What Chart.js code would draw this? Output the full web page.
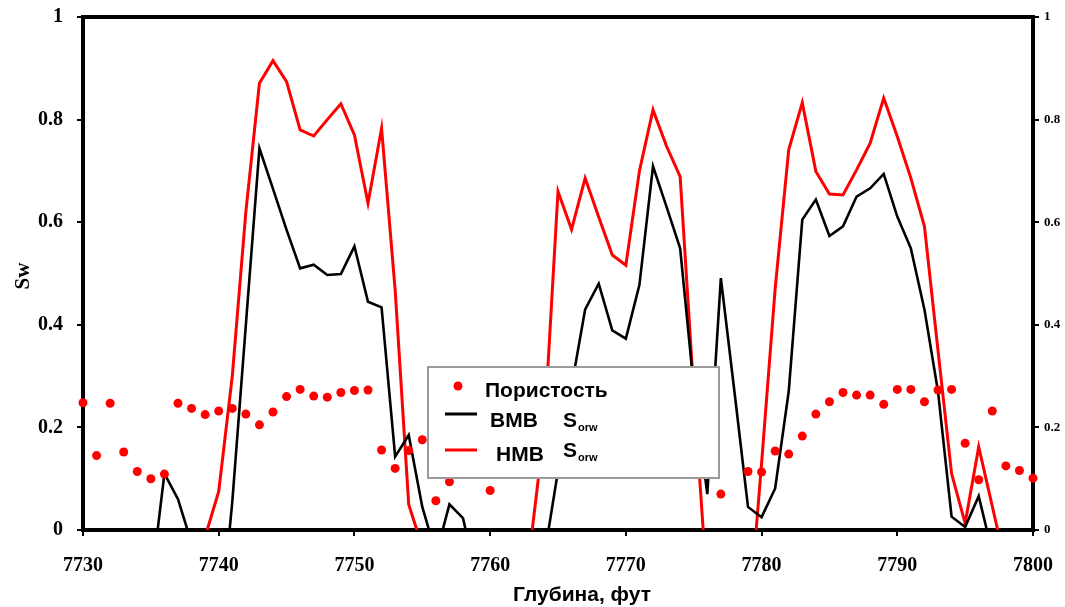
<!DOCTYPE html>
<html>
<head>
<meta charset="utf-8">
<script src="https://cdn.jsdelivr.net/npm/chart.js@4.4.1/dist/chart.umd.min.js"></script>
<style>
  body { margin: 0; background: #fff; }
  #chart { width: 1065px; height: 607px; }
</style>
</head>
<body>
<div id="chart"><canvas id="myChart" width="1065" height="607"></canvas></div>
<script>
// depth ticks (ft) and Sw ticks
const depthTicks = [7730, 7740, 7750, 7760, 7770, 7780, 7790, 7800];
const swTicks = [0, 0.2, 0.4, 0.6, 0.8, 1];

// porosity, one reading per foot (null = no reading shown)
const porDepth = [
  7730, 7731, 7732, 7733, 7734, 7735, 7736, 7737, 7738, 7739,
  7740, 7741, 7742, 7743, 7744, 7745, 7746, 7747, 7748, 7749,
  7750, 7751, 7752, 7753, 7754, 7755, 7756, 7757, 7758, 7759,
  7760, 7761, 7762, 7763, 7764, 7765, 7766, 7767, 7768, 7769,
  7770, 7771, 7772, 7773, 7774, 7775, 7776, 7777, 7778, 7779,
  7780, 7781, 7782, 7783, 7784, 7785, 7786, 7787, 7788, 7789,
  7790, 7791, 7792, 7793, 7794, 7795, 7796, 7797, 7798, 7799,
  7800
];
const porosity = [
  0.248, 0.145, 0.247, 0.152, 0.114, 0.100, 0.109, 0.247, 0.237, 0.225,
  0.232, 0.237, 0.226, 0.205, 0.230, 0.260, 0.274, 0.261, 0.259, 0.268,
  0.272, 0.273, 0.156, 0.120, 0.155, 0.176, 0.057, 0.094, null, null,
  0.077, null, null, null, null, null, null, null, null, null,
  null, null, null, null, null, null, null, 0.070, null, 0.114,
  0.113, 0.154, 0.148, 0.183, 0.226, 0.250, 0.268, 0.263, 0.263, 0.245,
  0.274, 0.274, 0.250, 0.273, 0.274, 0.169, 0.098, 0.232, 0.125, 0.116,
  0.101
];

// BMB Sorw (null breaks the curve where it sits on zero)
const bmbDepth = [
  7735.5, 7736, 7737, 7737.7, null,
  7740.8, 7741, 7742, 7743, 7744, 7745, 7746, 7747, 7748, 7749, 7750,
  7751, 7752, 7753, 7754, 7755, 7755.5, null,
  7756.5, 7757, 7758, 7758.2, null,
  7764.3, 7765, 7766, 7767, 7768, 7769, 7770, 7771, 7772, 7773, 7774,
  7775, 7776, 7777, 7778, 7779, 7780, 7781, 7782, 7783, 7784, 7785,
  7786, 7787, 7788, 7789, 7790, 7791, 7792, 7793, 7794, 7795, 7796, 7796.6
];
const bmbSw = [
  0, 0.11, 0.06, 0, null,
  0, 0.055, 0.40, 0.744, 0.665, 0.585, 0.510, 0.517, 0.497, 0.499, 0.553,
  0.445, 0.434, 0.143, 0.185, 0.045, 0, null,
  0, 0.05, 0.023, 0, null,
  0, 0.115, 0.28, 0.43, 0.48, 0.389, 0.373, 0.478, 0.709, 0.63, 0.549,
  0.28, 0.07, 0.491, 0.27, 0.045, 0.025, 0.081, 0.27, 0.605, 0.644, 0.573,
  0.592, 0.65, 0.666, 0.694, 0.611, 0.549, 0.43, 0.27, 0.026, 0.006, 0.066, 0
];

// HMB Sorw
const hmbDepth = [
  7739.15, 7740, 7741, 7742, 7743, 7744, 7745, 7746, 7747, 7748, 7749,
  7750, 7751, 7752, 7753, 7754, 7754.6, null,
  7763.1, 7764, 7765, 7766, 7767, 7768, 7769, 7770, 7771, 7772, 7773,
  7774, 7775, 7775.7, null,
  7779.6, 7780, 7781, 7782, 7783, 7784, 7785, 7786, 7787, 7788, 7789,
  7790, 7791, 7792, 7793, 7794, 7795, 7796, 7797.4
];
const hmbSw = [
  0, 0.075, 0.30, 0.62, 0.871, 0.915, 0.874, 0.78, 0.768, 0.80, 0.831,
  0.77, 0.637, 0.783, 0.468, 0.05, 0, null,
  0, 0.20, 0.66, 0.586, 0.686, 0.61, 0.536, 0.516, 0.70, 0.819, 0.748,
  0.689, 0.27, 0, null,
  0, 0.13, 0.47, 0.741, 0.833, 0.699, 0.655, 0.653, 0.702, 0.754, 0.842,
  0.767, 0.686, 0.592, 0.35, 0.11, 0.013, 0.162, 0
];

const pairs = (xs, ys) => xs.map((x, i) => x === null ? { x: NaN, y: null } : { x: x, y: ys[i] });

const serif = '"Liberation Serif", "Times New Roman", serif';
const sans = '"Liberation Sans", Arial, sans-serif';

const frameAndNotes = {
  id: 'frameAndNotes',
  beforeDatasetsDraw(chart) {
    const { ctx, chartArea: a } = chart;
    ctx.save();
    ctx.strokeStyle = '#000';
    ctx.lineWidth = 4;
    ctx.strokeRect(a.left, a.top, a.right - a.left, a.bottom - a.top);
    ctx.restore();
  },
  afterDraw(chart) {
    const ctx = chart.ctx;
    ctx.save();

    // axis titles
    ctx.fillStyle = '#000';
    ctx.font = 'bold 21px ' + sans;
    ctx.textAlign = 'center';
    ctx.textBaseline = 'middle';
    ctx.fillText('Глубина, фут', 582, 595);

    ctx.save();
    ctx.translate(24, 276);
    ctx.rotate(-Math.PI / 2);
    ctx.font = 'bold 21px ' + serif;
    ctx.fillText('Sw', 0, 0);
    ctx.restore();

    // legend box
    ctx.fillStyle = '#fff';
    ctx.fillRect(428, 367, 291, 111);
    ctx.strokeStyle = '#9a9a9a';
    ctx.lineWidth = 2;
    ctx.strokeRect(428, 367, 291, 111);

    ctx.fillStyle = '#f00';
    ctx.beginPath();
    ctx.arc(458, 386, 4.5, 0, Math.PI * 2);
    ctx.fill();

    ctx.lineWidth = 3;
    ctx.strokeStyle = '#000';
    ctx.beginPath(); ctx.moveTo(445, 414); ctx.lineTo(477, 414); ctx.stroke();
    ctx.strokeStyle = '#f00';
    ctx.beginPath(); ctx.moveTo(445, 450); ctx.lineTo(477, 450); ctx.stroke();

    ctx.fillStyle = '#000';
    ctx.textAlign = 'left';
    ctx.textBaseline = 'alphabetic';
    ctx.font = 'bold 21px ' + sans;
    ctx.fillText('Пористость', 485, 397);
    ctx.fillText('BMB', 490, 427);
    ctx.fillText('HMB', 496, 461);
    ctx.fillText('S', 563, 427);
    ctx.fillText('S', 563, 457);
    ctx.font = 'bold 11px ' + sans;
    ctx.fillText('orw', 578, 431);
    ctx.fillText('orw', 578, 461);

    ctx.restore();
  }
};

const ctx = document.getElementById('myChart').getContext('2d');
const myChart = new Chart(ctx, {
  type: 'line',
  data: {
    datasets: [
      {
        label: 'Пористость',
        data: pairs(porDepth, porosity),
        yAxisID: 'y2',
        showLine: false,
        pointRadius: 4.5,
        pointBackgroundColor: '#f00',
        pointBorderWidth: 0,
        clip: false
      },
      {
        label: 'BMB Sorw',
        data: pairs(bmbDepth, bmbSw),
        borderColor: '#000',
        borderWidth: 2.6,
        pointRadius: 0,
        tension: 0,
        spanGaps: false
      },
      {
        label: 'HMB Sorw',
        data: pairs(hmbDepth, hmbSw),
        borderColor: '#f00',
        borderWidth: 3,
        pointRadius: 0,
        tension: 0,
        spanGaps: false
      }
    ]
  },
  options: {
    responsive: false,
    animation: false,
    events: [],
    layout: { padding: { top: 17, left: 0, right: 0, bottom: 0 } },
    plugins: { legend: { display: false }, tooltip: { enabled: false } },
    scales: {
      x: {
        type: 'linear',
        min: 7730,
        max: 7800,
        afterBuildTicks: (s) => { s.ticks = depthTicks.map(v => ({ value: v })); },
        afterFit: (s) => { s.height = 77; s.paddingLeft = 0; s.paddingRight = 0; },
        ticks: { color: '#000', font: { family: serif, size: 20, weight: 'bold' }, padding: 18, maxRotation: 0, callback: (v) => String(v) },
        grid: { drawOnChartArea: false, tickLength: 6, color: '#000', lineWidth: 2 },
        border: { display: false }
      },
      y: {
        position: 'left',
        min: 0,
        max: 1,
        afterBuildTicks: (s) => { s.ticks = swTicks.map(v => ({ value: v })); },
        afterFit: (s) => { s.width = 83; s.paddingTop = 0; s.paddingBottom = 0; },
        ticks: { color: '#000', font: { family: serif, size: 20, weight: 'bold' }, padding: 14, callback: (v) => String(v) },
        grid: { drawOnChartArea: false, tickLength: 6, color: '#000', lineWidth: 2 },
        border: { display: false }
      },
      y2: {
        position: 'right',
        min: 0,
        max: 1,
        afterBuildTicks: (s) => { s.ticks = swTicks.map(v => ({ value: v })); },
        afterFit: (s) => { s.width = 32; s.paddingTop = 0; s.paddingBottom = 0; },
        ticks: { color: '#000', font: { family: serif, size: 13, weight: 'bold' }, padding: 5, callback: (v) => String(v) },
        grid: { drawOnChartArea: false, tickLength: 6, color: '#000', lineWidth: 2 },
        border: { display: false }
      }
    }
  },
  plugins: [frameAndNotes]
});
</script>
</body>
</html>
